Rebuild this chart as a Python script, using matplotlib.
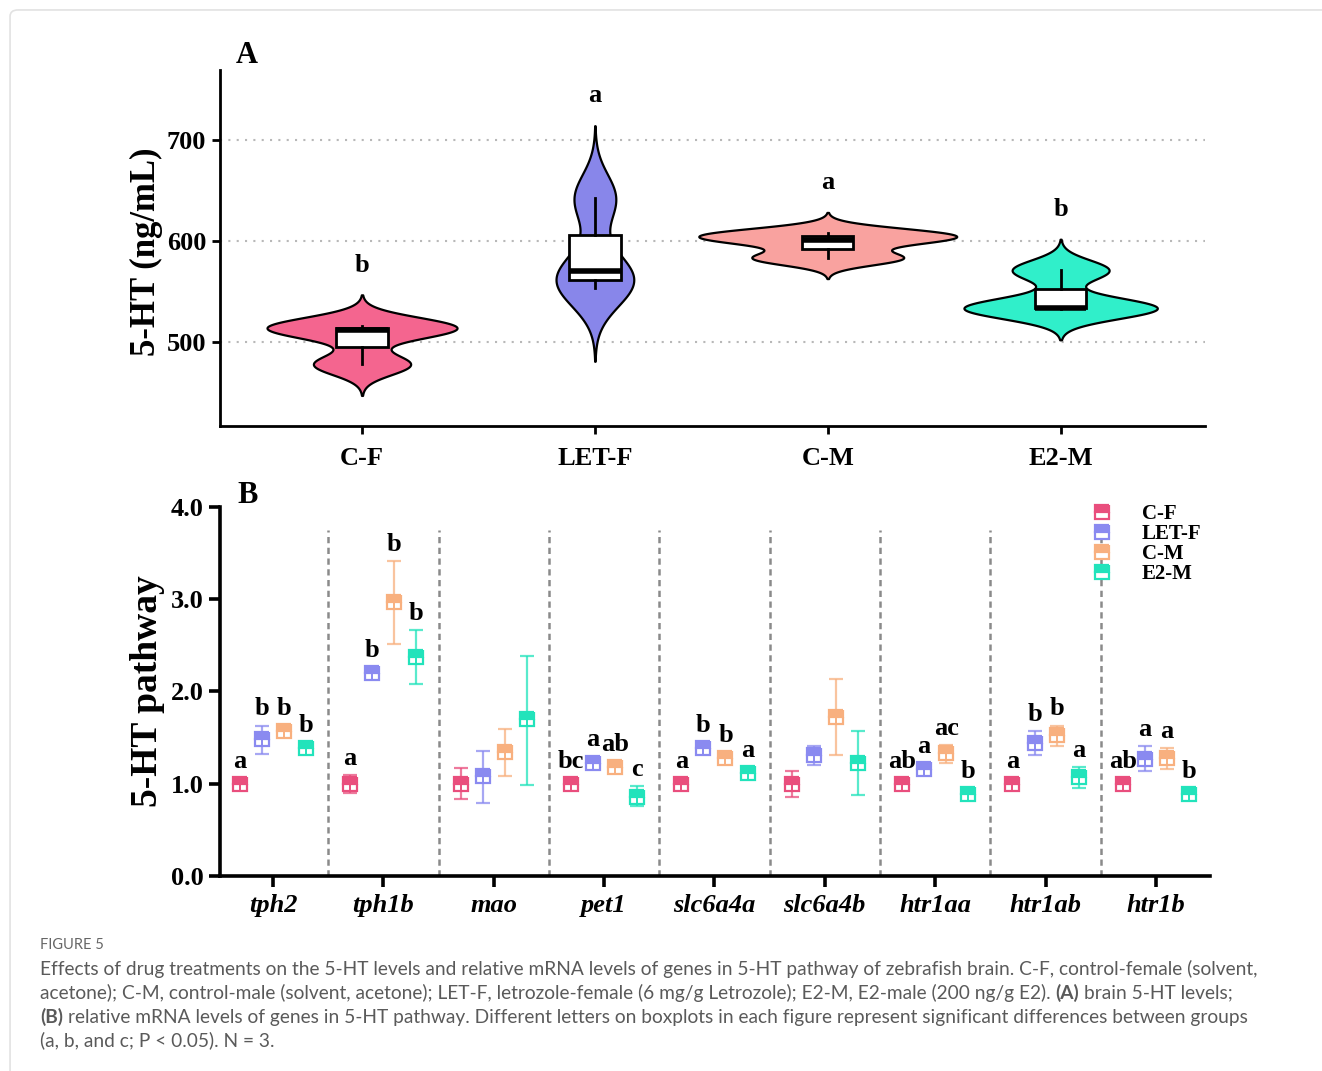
import numpy as np
import matplotlib
matplotlib.use('Agg')
import matplotlib.pyplot as plt
from matplotlib.lines import Line2D
from matplotlib.path import Path
from matplotlib.patches import Rectangle, FancyBboxPatch

# ---- panel A: brain 5-HT (ng/mL), N = 3 per group ----
groups = ['C-F', 'LET-F', 'C-M', 'E2-M']
ht_cf = [478, 512, 516]
ht_letf = [553, 570, 642]
ht_cm = [583, 601, 608]
ht_e2m = [533, 534, 571]
ht_sig = ['b', 'a', 'a', 'b']

# ---- panel B: relative mRNA levels ----
genes = ['tph2', 'tph1b', 'mao', 'pet1', 'slc6a4a', 'slc6a4b', 'htr1aa', 'htr1ab', 'htr1b']

cf_mean = [1.00, 1.00, 1.00, 1.00, 1.00, 1.00, 1.00, 1.00, 1.00]
letf_mean = [1.48, 2.20, 1.08, 1.23, 1.39, 1.31, 1.16, 1.44, 1.27]
cm_mean = [1.57, 2.97, 1.34, 1.18, 1.28, 1.72, 1.33, 1.53, 1.28]
e2m_mean = [1.39, 2.37, 1.70, 0.86, 1.12, 1.22, 0.89, 1.07, 0.89]

cf_lo = [0.96, 0.90, 0.83, 0.96, 0.96, 0.86, 0.96, 0.96, 0.96]
cf_hi = [1.04, 1.09, 1.17, 1.04, 1.04, 1.14, 1.04, 1.04, 1.04]
letf_lo = [1.32, 2.16, 0.79, 1.19, 1.35, 1.20, 1.12, 1.31, 1.14]
letf_hi = [1.63, 2.24, 1.36, 1.27, 1.43, 1.41, 1.20, 1.57, 1.41]
cm_lo = [1.52, 2.52, 1.08, 1.14, 1.24, 1.31, 1.23, 1.41, 1.16]
cm_hi = [1.62, 3.41, 1.59, 1.22, 1.32, 2.13, 1.42, 1.63, 1.39]
e2m_lo = [1.35, 2.08, 0.99, 0.76, 1.08, 0.88, 0.85, 0.95, 0.85]
e2m_hi = [1.43, 2.67, 2.39, 0.97, 1.16, 1.57, 0.93, 1.18, 0.93]

cf_sig = ['a', 'a', '', 'bc', 'a', '', 'ab', 'a', 'ab']
letf_sig = ['b', 'b', '', 'a', 'b', '', 'a', 'b', 'a']
cm_sig = ['b', 'b', '', 'ab', 'b', '', 'ac', 'b', 'a']
e2m_sig = ['b', 'b', '', 'c', 'a', '', 'b', 'a', 'b']

violin_colors = ['#F4658F', '#8886EA', '#F9A29F', '#30EFCA']
point_colors = ['#E94E7D', '#8A8AF0', '#F8B07F', '#22E3BB']

SERIF = 'Liberation Serif'
VSCALE = 16.0      # violin half-width per unit density
BOXW = 0.22
OFFSETS = [-0.3, -0.1, 0.1, 0.3]
SEP_TOP = 3.75


def silverman_h(v):
    q1, q3 = np.percentile(v, [25, 75])
    return 0.9 * min(v.std(ddof=1), (q3 - q1) / 1.34) * len(v) ** -0.2


def kde(v, grid, h):
    z = (grid[:, None] - v[None, :]) / h
    return np.exp(-0.5 * z ** 2).sum(1) / (len(v) * h * np.sqrt(2 * np.pi))


fig = plt.figure(figsize=(13.22, 10.71), dpi=100)

# ---------------- panel A ----------------
axA = fig.add_axes([0.1664, 0.6022, 0.7451, 0.3324])
for i, (vals, col, sig) in enumerate(zip([ht_cf, ht_letf, ht_cm, ht_e2m], violin_colors, ht_sig)):
    v = np.asarray(vals, float)
    h = silverman_h(v)
    grid = np.linspace(v.min() - 3 * h, v.max() + 3 * h, 400)
    w = kde(v, grid, h) * VSCALE
    axA.fill_betweenx(grid, i - w, i + w, facecolor=col, edgecolor='black', lw=1.6, zorder=2)
    q1, med, q3 = np.percentile(v, [25, 50, 75])
    axA.add_patch(Rectangle((i - BOXW / 2, q1), BOXW, q3 - q1, fc='white', ec='black', lw=2, zorder=3))
    axA.plot([i - BOXW / 2, i + BOXW / 2], [med, med], color='black', lw=4, solid_capstyle='butt', zorder=4)
    axA.plot([i, i], [q3, v.max()], color='black', lw=2, zorder=3)
    axA.plot([i, i], [v.min(), q1], color='black', lw=2, zorder=3)
    axA.text(i, v.max() + 3 * h + 23, sig, ha='center', va='baseline',
             fontsize=19, fontweight='bold', family=SERIF)

for yv in [500, 600, 700]:
    axA.axhline(yv, color='#b8b8b8', lw=1.5, ls=(0, (1, 3)), zorder=1)

axA.set_xlim(-0.61, 3.62)
axA.set_ylim(417, 769)
axA.set_yticks([500, 600, 700])
axA.set_xticks(range(len(groups)))
axA.set_xticklabels(groups)
for s in ['top', 'right']:
    axA.spines[s].set_visible(False)
for s in ['left', 'bottom']:
    axA.spines[s].set_linewidth(2)
axA.tick_params(axis='both', direction='out', length=6, width=2, pad=4)
axA.tick_params(axis='x', pad=9)
for lab in axA.get_xticklabels() + axA.get_yticklabels():
    lab.set_fontsize(19)
    lab.set_fontweight('bold')
    lab.set_family(SERIF)
axA.set_ylabel('5-HT (ng/mL)', fontsize=25, fontweight='bold', family=SERIF)
axA.yaxis.set_label_coords(-0.058, 0.49)

# ---------------- panel B ----------------
axB = fig.add_axes([0.1664, 0.1821, 0.7489, 0.3445])
vline_marker = Path([(0, -1), (0, 0)], [Path.MOVETO, Path.LINETO])
xg = np.arange(len(genes))

for k in range(len(genes) - 1):
    axB.plot([k + 0.5, k + 0.5], [0, SEP_TOP], color='#8a8a8a', lw=1.8, ls=(0, (2.5, 1.8)), zorder=1)

series = [
    (cf_mean, cf_lo, cf_hi, cf_sig),
    (letf_mean, letf_lo, letf_hi, letf_sig),
    (cm_mean, cm_lo, cm_hi, cm_sig),
    (e2m_mean, e2m_lo, e2m_hi, e2m_sig),
]
handles = []
for j, ((mean, lo, hi, sig), col) in enumerate(zip(series, point_colors)):
    xs = xg + OFFSETS[j]
    m = np.asarray(mean)
    lo = np.asarray(lo)
    hi = np.asarray(hi)
    axB.errorbar(xs, m, yerr=[m - lo, hi - m], fmt='none', ecolor=col, elinewidth=1.6,
                 capsize=5, capthick=1.6, alpha=0.75, zorder=3)
    axB.plot(xs, m, ls='none', marker='s', ms=10, fillstyle='top', mfc=col,
             mfcalt='white', mec=col, mew=1.6, zorder=4)
    axB.plot(xs, m, ls='none', marker=vline_marker, ms=10, mec=col, mew=1.4, zorder=5)
    top = np.maximum(hi, m + 0.065)
    for x, t, s in zip(xs, top, sig):
        if s:
            axB.text(x, t + 0.11, s, ha='center', va='baseline', fontsize=19,
                     fontweight='bold', family=SERIF, zorder=6)
    handles.append(Line2D([], [], ls='none', marker='s', ms=10, fillstyle='top', mfc=col,
                          mfcalt='white', mec=col, mew=1.6, label=groups[j]))

axB.set_xlim(-0.48, 8.49)
axB.set_ylim(0, 4.0)
axB.set_yticks([0, 1, 2, 3, 4])
axB.set_yticklabels(['0.0', '1.0', '2.0', '3.0', '4.0'])
axB.set_xticks(xg)
axB.set_xticklabels(genes)
for s in ['top', 'right']:
    axB.spines[s].set_visible(False)
for s in ['left', 'bottom']:
    axB.spines[s].set_linewidth(2.6)
axB.tick_params(axis='both', direction='out', length=8, width=2.6, pad=4)
axB.tick_params(axis='x', pad=5)
for lab in axB.get_yticklabels():
    lab.set_fontsize(19)
    lab.set_fontweight('bold')
    lab.set_family(SERIF)
for lab in axB.get_xticklabels():
    lab.set_fontsize(19)
    lab.set_fontweight('bold')
    lab.set_fontstyle('italic')
    lab.set_family(SERIF)
axB.set_ylabel('5-HT pathway', fontsize=27, fontweight='bold', family=SERIF)
axB.yaxis.set_label_coords(-0.056, 0.5)

leg = axB.legend(handles=handles, loc='upper right', bbox_to_anchor=(1.0, 1.03), frameon=False,
                 prop={'family': SERIF, 'weight': 'bold', 'size': 15},
                 handletextpad=1.4, labelspacing=0.0, handlelength=1.0, borderaxespad=0)

# panel letters
fig.text(0.187, 0.9486, 'A', fontsize=22, fontweight='bold', family=SERIF, ha='center', va='center')
fig.text(0.187, 0.5369, 'B', fontsize=22, fontweight='bold', family=SERIF, ha='center', va='center')

# outer frame
fig.patches.append(FancyBboxPatch((0.0076, -0.2), 1.2, 1.1907, boxstyle='round,pad=0,rounding_size=0.006',
                                  transform=fig.transFigure, fc='none', ec='#e2e2e2', lw=1.2))

# ---------------- caption ----------------
CAP = 'Lato'
cap_color = '#5a5a5a'
fig.text(0.0303, 0.1176, 'FIGURE 5', fontsize=10.5, color='#666666', family=CAP, va='center')
cap_lines = [
    [('Effects of drug treatments on the 5-HT levels and relative mRNA levels of genes in 5-HT pathway '
      'of zebrafish brain. C-F, control-female (solvent,', 'normal')],
    [('acetone); C-M, control-male (solvent, acetone); LET-F, letrozole-female (6 mg/g Letrozole); '
      'E2-M, E2-male (200 ng/g E2).', 'normal'), ('(A)', 'bold'), ('brain 5-HT levels;', 'normal')],
    [('(B)', 'bold'), ('relative mRNA levels of genes in 5-HT pathway. Different letters on boxplots in each '
                      'figure represent significant differences between groups', 'normal')],
    [('(a, b, and c; P < 0.05). N = 3.', 'normal')],
]
cap_y = [0.0952, 0.0728, 0.0504, 0.0290]
CAP_SIZE = 13.8
renderer = fig.canvas.get_renderer()
figw = fig.get_figwidth() * fig.dpi
probe1 = fig.text(0, 0, 'x x', fontsize=CAP_SIZE, family=CAP)
probe2 = fig.text(0, 0, 'xx', fontsize=CAP_SIZE, family=CAP)
space_w = (probe1.get_window_extent(renderer).width - probe2.get_window_extent(renderer).width) / figw
probe1.remove()
probe2.remove()
for runs, y in zip(cap_lines, cap_y):
    x = 0.0303
    for text, weight in runs:
        t = fig.text(x, y, text, fontsize=CAP_SIZE, family=CAP, fontweight=weight, color=cap_color, va='center')
        x += t.get_window_extent(renderer).width / figw + space_w

fig.savefig('out.png', dpi=100)
